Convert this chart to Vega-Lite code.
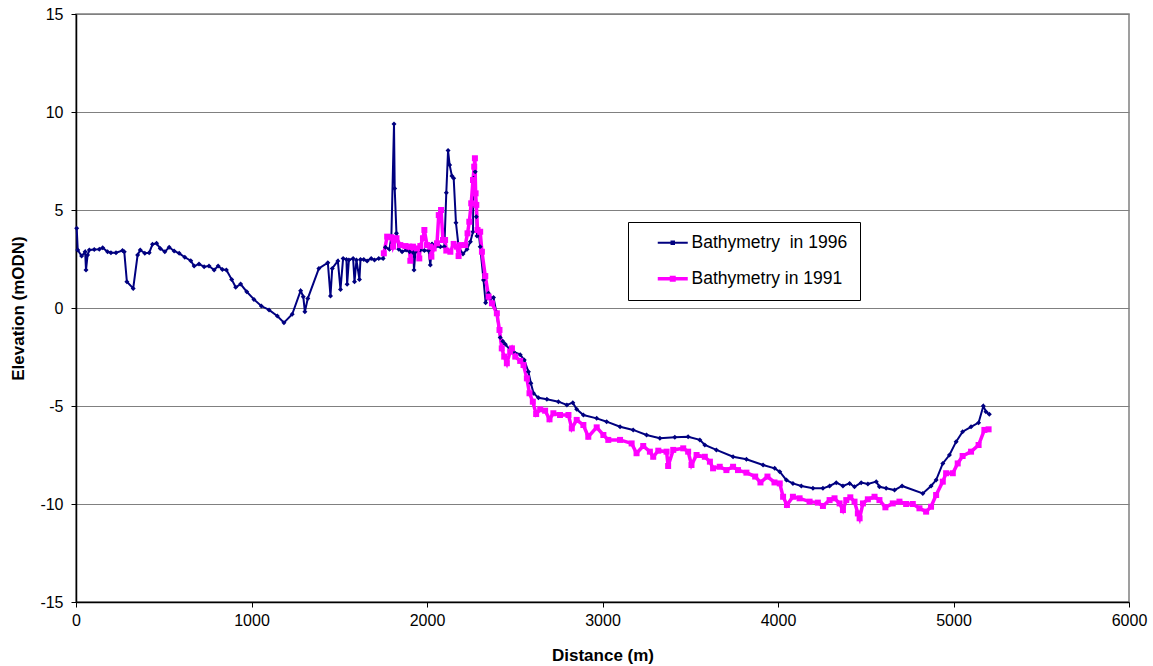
{
  "$schema": "https://vega.github.io/schema/vega-lite/v6.json",
  "width": 1053,
  "height": 588,
  "autosize": "none",
  "padding": {"left": 76, "top": 14, "right": 24, "bottom": 64},
  "background": "white",
  "config": {
    "font": "Liberation Sans",
    "view": {"stroke": "#808080", "strokeWidth": 1.5},
    "axis": {
      "labelFont": "Liberation Sans",
      "labelFontSize": 16,
      "labelColor": "black",
      "titleFont": "Liberation Sans",
      "titleFontSize": 17,
      "titleFontWeight": "bold",
      "titleColor": "black",
      "domainColor": "black",
      "domainWidth": 1.5,
      "tickColor": "black",
      "tickSize": 5,
      "gridColor": "#808080",
      "gridWidth": 1
    }
  },
  "data": {"values": [
    {"s":"Bathymetry\u00a0 in 1996","d":4,"e":4.07},{"s":"Bathymetry\u00a0 in 1996","d":10,"e":2.96},{"s":"Bathymetry\u00a0 in 1996","d":32,"e":2.65},{"s":"Bathymetry\u00a0 in 1996","d":52,"e":2.87},{"s":"Bathymetry\u00a0 in 1996","d":57,"e":1.94},{"s":"Bathymetry\u00a0 in 1996","d":66,"e":2.7},{"s":"Bathymetry\u00a0 in 1996","d":76,"e":2.96},{"s":"Bathymetry\u00a0 in 1996","d":104,"e":2.99},{"s":"Bathymetry\u00a0 in 1996","d":133,"e":3.0},{"s":"Bathymetry\u00a0 in 1996","d":152,"e":3.08},{"s":"Bathymetry\u00a0 in 1996","d":180,"e":2.87},{"s":"Bathymetry\u00a0 in 1996","d":199,"e":2.82},{"s":"Bathymetry\u00a0 in 1996","d":228,"e":2.82},{"s":"Bathymetry\u00a0 in 1996","d":265,"e":2.93},{"s":"Bathymetry\u00a0 in 1996","d":275,"e":2.87},{"s":"Bathymetry\u00a0 in 1996","d":290,"e":1.34},{"s":"Bathymetry\u00a0 in 1996","d":326,"e":1.0},{"s":"Bathymetry\u00a0 in 1996","d":351,"e":2.7},{"s":"Bathymetry\u00a0 in 1996","d":366,"e":2.96},{"s":"Bathymetry\u00a0 in 1996","d":392,"e":2.79},{"s":"Bathymetry\u00a0 in 1996","d":417,"e":2.82},{"s":"Bathymetry\u00a0 in 1996","d":436,"e":3.25},{"s":"Bathymetry\u00a0 in 1996","d":459,"e":3.3},{"s":"Bathymetry\u00a0 in 1996","d":480,"e":3.04},{"s":"Bathymetry\u00a0 in 1996","d":506,"e":2.87},{"s":"Bathymetry\u00a0 in 1996","d":531,"e":3.1},{"s":"Bathymetry\u00a0 in 1996","d":559,"e":2.91},{"s":"Bathymetry\u00a0 in 1996","d":588,"e":2.79},{"s":"Bathymetry\u00a0 in 1996","d":620,"e":2.59},{"s":"Bathymetry\u00a0 in 1996","d":654,"e":2.41},{"s":"Bathymetry\u00a0 in 1996","d":673,"e":2.14},{"s":"Bathymetry\u00a0 in 1996","d":701,"e":2.24},{"s":"Bathymetry\u00a0 in 1996","d":730,"e":2.11},{"s":"Bathymetry\u00a0 in 1996","d":758,"e":2.14},{"s":"Bathymetry\u00a0 in 1996","d":787,"e":1.94},{"s":"Bathymetry\u00a0 in 1996","d":810,"e":2.14},{"s":"Bathymetry\u00a0 in 1996","d":834,"e":1.97},{"s":"Bathymetry\u00a0 in 1996","d":857,"e":1.94},{"s":"Bathymetry\u00a0 in 1996","d":887,"e":1.46},{"s":"Bathymetry\u00a0 in 1996","d":910,"e":1.06},{"s":"Bathymetry\u00a0 in 1996","d":938,"e":1.22},{"s":"Bathymetry\u00a0 in 1996","d":973,"e":0.83},{"s":"Bathymetry\u00a0 in 1996","d":1014,"e":0.44},{"s":"Bathymetry\u00a0 in 1996","d":1056,"e":0.1},{"s":"Bathymetry\u00a0 in 1996","d":1100,"e":-0.1},{"s":"Bathymetry\u00a0 in 1996","d":1147,"e":-0.41},{"s":"Bathymetry\u00a0 in 1996","d":1185,"e":-0.75},{"s":"Bathymetry\u00a0 in 1996","d":1232,"e":-0.32},{"s":"Bathymetry\u00a0 in 1996","d":1280,"e":0.88},{"s":"Bathymetry\u00a0 in 1996","d":1295,"e":0.58},{"s":"Bathymetry\u00a0 in 1996","d":1304,"e":-0.19},{"s":"Bathymetry\u00a0 in 1996","d":1321,"e":0.49},{"s":"Bathymetry\u00a0 in 1996","d":1384,"e":2.02},{"s":"Bathymetry\u00a0 in 1996","d":1435,"e":2.31},{"s":"Bathymetry\u00a0 in 1996","d":1450,"e":0.61},{"s":"Bathymetry\u00a0 in 1996","d":1460,"e":2.02},{"s":"Bathymetry\u00a0 in 1996","d":1492,"e":2.4},{"s":"Bathymetry\u00a0 in 1996","d":1507,"e":0.95},{"s":"Bathymetry\u00a0 in 1996","d":1522,"e":2.53},{"s":"Bathymetry\u00a0 in 1996","d":1541,"e":2.48},{"s":"Bathymetry\u00a0 in 1996","d":1545,"e":1.21},{"s":"Bathymetry\u00a0 in 1996","d":1555,"e":2.45},{"s":"Bathymetry\u00a0 in 1996","d":1579,"e":2.53},{"s":"Bathymetry\u00a0 in 1996","d":1587,"e":1.34},{"s":"Bathymetry\u00a0 in 1996","d":1598,"e":2.45},{"s":"Bathymetry\u00a0 in 1996","d":1615,"e":1.46},{"s":"Bathymetry\u00a0 in 1996","d":1621,"e":2.48},{"s":"Bathymetry\u00a0 in 1996","d":1640,"e":2.48},{"s":"Bathymetry\u00a0 in 1996","d":1659,"e":2.4},{"s":"Bathymetry\u00a0 in 1996","d":1682,"e":2.53},{"s":"Bathymetry\u00a0 in 1996","d":1701,"e":2.45},{"s":"Bathymetry\u00a0 in 1996","d":1725,"e":2.53},{"s":"Bathymetry\u00a0 in 1996","d":1750,"e":2.53},{"s":"Bathymetry\u00a0 in 1996","d":1763,"e":3.1},{"s":"Bathymetry\u00a0 in 1996","d":1786,"e":3.0},{"s":"Bathymetry\u00a0 in 1996","d":1797,"e":3.64},{"s":"Bathymetry\u00a0 in 1996","d":1812,"e":9.39},{"s":"Bathymetry\u00a0 in 1996","d":1816,"e":6.1},{"s":"Bathymetry\u00a0 in 1996","d":1826,"e":3.81},{"s":"Bathymetry\u00a0 in 1996","d":1839,"e":3.0},{"s":"Bathymetry\u00a0 in 1996","d":1858,"e":2.87},{"s":"Bathymetry\u00a0 in 1996","d":1881,"e":2.96},{"s":"Bathymetry\u00a0 in 1996","d":1901,"e":2.87},{"s":"Bathymetry\u00a0 in 1996","d":1922,"e":2.82},{"s":"Bathymetry\u00a0 in 1996","d":1926,"e":1.94},{"s":"Bathymetry\u00a0 in 1996","d":1934,"e":2.87},{"s":"Bathymetry\u00a0 in 1996","d":1962,"e":2.96},{"s":"Bathymetry\u00a0 in 1996","d":1985,"e":2.93},{"s":"Bathymetry\u00a0 in 1996","d":2009,"e":2.93},{"s":"Bathymetry\u00a0 in 1996","d":2019,"e":2.19},{"s":"Bathymetry\u00a0 in 1996","d":2029,"e":3.27},{"s":"Bathymetry\u00a0 in 1996","d":2048,"e":3.13},{"s":"Bathymetry\u00a0 in 1996","d":2076,"e":3.13},{"s":"Bathymetry\u00a0 in 1996","d":2099,"e":3.13},{"s":"Bathymetry\u00a0 in 1996","d":2110,"e":5.88},{"s":"Bathymetry\u00a0 in 1996","d":2120,"e":8.03},{"s":"Bathymetry\u00a0 in 1996","d":2129,"e":7.3},{"s":"Bathymetry\u00a0 in 1996","d":2142,"e":6.73},{"s":"Bathymetry\u00a0 in 1996","d":2152,"e":6.62},{"s":"Bathymetry\u00a0 in 1996","d":2165,"e":4.35},{"s":"Bathymetry\u00a0 in 1996","d":2180,"e":3.13},{"s":"Bathymetry\u00a0 in 1996","d":2205,"e":2.76},{"s":"Bathymetry\u00a0 in 1996","d":2228,"e":3.0},{"s":"Bathymetry\u00a0 in 1996","d":2247,"e":3.38},{"s":"Bathymetry\u00a0 in 1996","d":2262,"e":3.89},{"s":"Bathymetry\u00a0 in 1996","d":2265,"e":6.62},{"s":"Bathymetry\u00a0 in 1996","d":2275,"e":6.95},{"s":"Bathymetry\u00a0 in 1996","d":2281,"e":4.66},{"s":"Bathymetry\u00a0 in 1996","d":2285,"e":3.67},{"s":"Bathymetry\u00a0 in 1996","d":2294,"e":3.89},{"s":"Bathymetry\u00a0 in 1996","d":2303,"e":3.13},{"s":"Bathymetry\u00a0 in 1996","d":2322,"e":1.43},{"s":"Bathymetry\u00a0 in 1996","d":2334,"e":0.27},{"s":"Bathymetry\u00a0 in 1996","d":2350,"e":0.75},{"s":"Bathymetry\u00a0 in 1996","d":2364,"e":0.5},{"s":"Bathymetry\u00a0 in 1996","d":2379,"e":0.53},{"s":"Bathymetry\u00a0 in 1996","d":2395,"e":-0.2},{"s":"Bathymetry\u00a0 in 1996","d":2417,"e":-1.5},{"s":"Bathymetry\u00a0 in 1996","d":2432,"e":-1.7},{"s":"Bathymetry\u00a0 in 1996","d":2446,"e":-1.85},{"s":"Bathymetry\u00a0 in 1996","d":2474,"e":-2.14},{"s":"Bathymetry\u00a0 in 1996","d":2493,"e":-2.23},{"s":"Bathymetry\u00a0 in 1996","d":2531,"e":-2.38},{"s":"Bathymetry\u00a0 in 1996","d":2554,"e":-2.65},{"s":"Bathymetry\u00a0 in 1996","d":2578,"e":-3.25},{"s":"Bathymetry\u00a0 in 1996","d":2592,"e":-3.84},{"s":"Bathymetry\u00a0 in 1996","d":2607,"e":-4.35},{"s":"Bathymetry\u00a0 in 1996","d":2635,"e":-4.58},{"s":"Bathymetry\u00a0 in 1996","d":2683,"e":-4.66},{"s":"Bathymetry\u00a0 in 1996","d":2749,"e":-4.78},{"s":"Bathymetry\u00a0 in 1996","d":2797,"e":-4.95},{"s":"Bathymetry\u00a0 in 1996","d":2831,"e":-4.83},{"s":"Bathymetry\u00a0 in 1996","d":2853,"e":-5.17},{"s":"Bathymetry\u00a0 in 1996","d":2891,"e":-5.46},{"s":"Bathymetry\u00a0 in 1996","d":2967,"e":-5.63},{"s":"Bathymetry\u00a0 in 1996","d":3024,"e":-5.8},{"s":"Bathymetry\u00a0 in 1996","d":3100,"e":-6.06},{"s":"Bathymetry\u00a0 in 1996","d":3175,"e":-6.22},{"s":"Bathymetry\u00a0 in 1996","d":3251,"e":-6.48},{"s":"Bathymetry\u00a0 in 1996","d":3327,"e":-6.65},{"s":"Bathymetry\u00a0 in 1996","d":3412,"e":-6.6},{"s":"Bathymetry\u00a0 in 1996","d":3488,"e":-6.57},{"s":"Bathymetry\u00a0 in 1996","d":3555,"e":-6.73},{"s":"Bathymetry\u00a0 in 1996","d":3583,"e":-6.99},{"s":"Bathymetry\u00a0 in 1996","d":3649,"e":-7.24},{"s":"Bathymetry\u00a0 in 1996","d":3744,"e":-7.59},{"s":"Bathymetry\u00a0 in 1996","d":3820,"e":-7.72},{"s":"Bathymetry\u00a0 in 1996","d":3915,"e":-8.01},{"s":"Bathymetry\u00a0 in 1996","d":3981,"e":-8.18},{"s":"Bathymetry\u00a0 in 1996","d":4010,"e":-8.35},{"s":"Bathymetry\u00a0 in 1996","d":4048,"e":-8.78},{"s":"Bathymetry\u00a0 in 1996","d":4085,"e":-8.95},{"s":"Bathymetry\u00a0 in 1996","d":4133,"e":-9.08},{"s":"Bathymetry\u00a0 in 1996","d":4199,"e":-9.2},{"s":"Bathymetry\u00a0 in 1996","d":4256,"e":-9.2},{"s":"Bathymetry\u00a0 in 1996","d":4294,"e":-9.08},{"s":"Bathymetry\u00a0 in 1996","d":4332,"e":-8.91},{"s":"Bathymetry\u00a0 in 1996","d":4370,"e":-9.08},{"s":"Bathymetry\u00a0 in 1996","d":4408,"e":-8.95},{"s":"Bathymetry\u00a0 in 1996","d":4436,"e":-9.12},{"s":"Bathymetry\u00a0 in 1996","d":4474,"e":-8.91},{"s":"Bathymetry\u00a0 in 1996","d":4512,"e":-8.98},{"s":"Bathymetry\u00a0 in 1996","d":4560,"e":-8.86},{"s":"Bathymetry\u00a0 in 1996","d":4578,"e":-9.12},{"s":"Bathymetry\u00a0 in 1996","d":4616,"e":-9.2},{"s":"Bathymetry\u00a0 in 1996","d":4664,"e":-9.29},{"s":"Bathymetry\u00a0 in 1996","d":4707,"e":-9.08},{"s":"Bathymetry\u00a0 in 1996","d":4825,"e":-9.46},{"s":"Bathymetry\u00a0 in 1996","d":4872,"e":-9.08},{"s":"Bathymetry\u00a0 in 1996","d":4901,"e":-8.78},{"s":"Bathymetry\u00a0 in 1996","d":4939,"e":-7.93},{"s":"Bathymetry\u00a0 in 1996","d":4977,"e":-7.5},{"s":"Bathymetry\u00a0 in 1996","d":5015,"e":-6.82},{"s":"Bathymetry\u00a0 in 1996","d":5052,"e":-6.31},{"s":"Bathymetry\u00a0 in 1996","d":5100,"e":-6.06},{"s":"Bathymetry\u00a0 in 1996","d":5143,"e":-5.85},{"s":"Bathymetry\u00a0 in 1996","d":5170,"e":-5.0},{"s":"Bathymetry\u00a0 in 1996","d":5185,"e":-5.29},{"s":"Bathymetry\u00a0 in 1996","d":5204,"e":-5.42},
    {"s":"Bathymetry in 1991","d":1754,"e":2.79},{"s":"Bathymetry in 1991","d":1773,"e":3.64},{"s":"Bathymetry in 1991","d":1797,"e":3.61},{"s":"Bathymetry in 1991","d":1807,"e":3.13},{"s":"Bathymetry in 1991","d":1826,"e":3.56},{"s":"Bathymetry in 1991","d":1848,"e":3.21},{"s":"Bathymetry in 1991","d":1877,"e":3.16},{"s":"Bathymetry in 1991","d":1899,"e":3.13},{"s":"Bathymetry in 1991","d":1905,"e":2.41},{"s":"Bathymetry in 1991","d":1920,"e":3.13},{"s":"Bathymetry in 1991","d":1943,"e":3.04},{"s":"Bathymetry in 1991","d":1956,"e":2.53},{"s":"Bathymetry in 1991","d":1962,"e":3.16},{"s":"Bathymetry in 1991","d":1977,"e":3.56},{"s":"Bathymetry in 1991","d":1985,"e":3.98},{"s":"Bathymetry in 1991","d":2000,"e":3.21},{"s":"Bathymetry in 1991","d":2019,"e":3.13},{"s":"Bathymetry in 1991","d":2025,"e":2.62},{"s":"Bathymetry in 1991","d":2038,"e":3.04},{"s":"Bathymetry in 1991","d":2057,"e":3.3},{"s":"Bathymetry in 1991","d":2067,"e":4.74},{"s":"Bathymetry in 1991","d":2080,"e":5.0},{"s":"Bathymetry in 1991","d":2091,"e":3.47},{"s":"Bathymetry in 1991","d":2103,"e":3.47},{"s":"Bathymetry in 1991","d":2110,"e":2.93},{"s":"Bathymetry in 1991","d":2133,"e":2.87},{"s":"Bathymetry in 1991","d":2152,"e":3.27},{"s":"Bathymetry in 1991","d":2171,"e":3.13},{"s":"Bathymetry in 1991","d":2180,"e":2.65},{"s":"Bathymetry in 1991","d":2190,"e":3.21},{"s":"Bathymetry in 1991","d":2218,"e":3.21},{"s":"Bathymetry in 1991","d":2231,"e":3.81},{"s":"Bathymetry in 1991","d":2241,"e":4.4},{"s":"Bathymetry in 1991","d":2252,"e":5.34},{"s":"Bathymetry in 1991","d":2262,"e":6.53},{"s":"Bathymetry in 1991","d":2269,"e":7.21},{"s":"Bathymetry in 1991","d":2273,"e":7.64},{"s":"Bathymetry in 1991","d":2277,"e":5.85},{"s":"Bathymetry in 1991","d":2281,"e":5.26},{"s":"Bathymetry in 1991","d":2288,"e":3.98},{"s":"Bathymetry in 1991","d":2303,"e":3.89},{"s":"Bathymetry in 1991","d":2313,"e":2.87},{"s":"Bathymetry in 1991","d":2332,"e":1.63},{"s":"Bathymetry in 1991","d":2351,"e":0.58},{"s":"Bathymetry in 1991","d":2370,"e":0.24},{"s":"Bathymetry in 1991","d":2398,"e":-0.27},{"s":"Bathymetry in 1991","d":2413,"e":-1.12},{"s":"Bathymetry in 1991","d":2426,"e":-2.06},{"s":"Bathymetry in 1991","d":2440,"e":-2.48},{"s":"Bathymetry in 1991","d":2455,"e":-2.82},{"s":"Bathymetry in 1991","d":2474,"e":-2.23},{"s":"Bathymetry in 1991","d":2484,"e":-2.06},{"s":"Bathymetry in 1991","d":2503,"e":-2.48},{"s":"Bathymetry in 1991","d":2531,"e":-2.7},{"s":"Bathymetry in 1991","d":2550,"e":-2.91},{"s":"Bathymetry in 1991","d":2569,"e":-3.59},{"s":"Bathymetry in 1991","d":2584,"e":-4.35},{"s":"Bathymetry in 1991","d":2603,"e":-4.78},{"s":"Bathymetry in 1991","d":2622,"e":-5.41},{"s":"Bathymetry in 1991","d":2645,"e":-5.17},{"s":"Bathymetry in 1991","d":2673,"e":-5.24},{"s":"Bathymetry in 1991","d":2698,"e":-5.68},{"s":"Bathymetry in 1991","d":2720,"e":-5.37},{"s":"Bathymetry in 1991","d":2758,"e":-5.46},{"s":"Bathymetry in 1991","d":2806,"e":-5.46},{"s":"Bathymetry in 1991","d":2825,"e":-6.14},{"s":"Bathymetry in 1991","d":2853,"e":-5.71},{"s":"Bathymetry in 1991","d":2891,"e":-5.97},{"s":"Bathymetry in 1991","d":2919,"e":-6.57},{"s":"Bathymetry in 1991","d":2967,"e":-6.09},{"s":"Bathymetry in 1991","d":3005,"e":-6.48},{"s":"Bathymetry in 1991","d":3033,"e":-6.73},{"s":"Bathymetry in 1991","d":3100,"e":-6.73},{"s":"Bathymetry in 1991","d":3166,"e":-6.91},{"s":"Bathymetry in 1991","d":3194,"e":-7.41},{"s":"Bathymetry in 1991","d":3232,"e":-7.04},{"s":"Bathymetry in 1991","d":3270,"e":-7.33},{"s":"Bathymetry in 1991","d":3289,"e":-7.59},{"s":"Bathymetry in 1991","d":3318,"e":-7.28},{"s":"Bathymetry in 1991","d":3365,"e":-7.33},{"s":"Bathymetry in 1991","d":3374,"e":-8.06},{"s":"Bathymetry in 1991","d":3403,"e":-7.24},{"s":"Bathymetry in 1991","d":3460,"e":-7.16},{"s":"Bathymetry in 1991","d":3488,"e":-7.33},{"s":"Bathymetry in 1991","d":3507,"e":-8.01},{"s":"Bathymetry in 1991","d":3536,"e":-7.5},{"s":"Bathymetry in 1991","d":3583,"e":-7.59},{"s":"Bathymetry in 1991","d":3612,"e":-7.84},{"s":"Bathymetry in 1991","d":3630,"e":-8.18},{"s":"Bathymetry in 1991","d":3668,"e":-8.1},{"s":"Bathymetry in 1991","d":3706,"e":-8.27},{"s":"Bathymetry in 1991","d":3744,"e":-8.1},{"s":"Bathymetry in 1991","d":3772,"e":-8.27},{"s":"Bathymetry in 1991","d":3820,"e":-8.4},{"s":"Bathymetry in 1991","d":3870,"e":-8.6},{"s":"Bathymetry in 1991","d":3900,"e":-8.9},{"s":"Bathymetry in 1991","d":3940,"e":-8.6},{"s":"Bathymetry in 1991","d":3980,"e":-8.9},{"s":"Bathymetry in 1991","d":4010,"e":-8.95},{"s":"Bathymetry in 1991","d":4029,"e":-9.63},{"s":"Bathymetry in 1991","d":4051,"e":-10.05},{"s":"Bathymetry in 1991","d":4085,"e":-9.63},{"s":"Bathymetry in 1991","d":4123,"e":-9.71},{"s":"Bathymetry in 1991","d":4180,"e":-9.88},{"s":"Bathymetry in 1991","d":4227,"e":-9.93},{"s":"Bathymetry in 1991","d":4256,"e":-10.1},{"s":"Bathymetry in 1991","d":4294,"e":-9.8},{"s":"Bathymetry in 1991","d":4322,"e":-9.71},{"s":"Bathymetry in 1991","d":4351,"e":-9.97},{"s":"Bathymetry in 1991","d":4370,"e":-10.31},{"s":"Bathymetry in 1991","d":4389,"e":-9.8},{"s":"Bathymetry in 1991","d":4412,"e":-9.66},{"s":"Bathymetry in 1991","d":4436,"e":-9.88},{"s":"Bathymetry in 1991","d":4455,"e":-10.48},{"s":"Bathymetry in 1991","d":4465,"e":-10.73},{"s":"Bathymetry in 1991","d":4484,"e":-9.97},{"s":"Bathymetry in 1991","d":4512,"e":-9.76},{"s":"Bathymetry in 1991","d":4550,"e":-9.63},{"s":"Bathymetry in 1991","d":4578,"e":-9.8},{"s":"Bathymetry in 1991","d":4612,"e":-10.17},{"s":"Bathymetry in 1991","d":4654,"e":-9.97},{"s":"Bathymetry in 1991","d":4692,"e":-9.88},{"s":"Bathymetry in 1991","d":4730,"e":-10.0},{"s":"Bathymetry in 1991","d":4768,"e":-10.0},{"s":"Bathymetry in 1991","d":4806,"e":-10.22},{"s":"Bathymetry in 1991","d":4844,"e":-10.39},{"s":"Bathymetry in 1991","d":4872,"e":-10.14},{"s":"Bathymetry in 1991","d":4901,"e":-9.54},{"s":"Bathymetry in 1991","d":4939,"e":-8.86},{"s":"Bathymetry in 1991","d":4958,"e":-8.43},{"s":"Bathymetry in 1991","d":4996,"e":-8.43},{"s":"Bathymetry in 1991","d":5024,"e":-7.93},{"s":"Bathymetry in 1991","d":5052,"e":-7.55},{"s":"Bathymetry in 1991","d":5100,"e":-7.33},{"s":"Bathymetry in 1991","d":5143,"e":-6.99},{"s":"Bathymetry in 1991","d":5176,"e":-6.22},{"s":"Bathymetry in 1991","d":5200,"e":-6.19}
  ]},
  "encoding": {
    "x": {"field": "d", "type": "quantitative", "title": "Distance (m)",
      "scale": {"domain": [0, 6000], "nice": false, "zero": false},
      "axis": {"values": [0,1000,2000,3000,4000,5000,6000], "grid": false, "labelPadding": 5, "titlePadding": 19, "labelFlush": false, "labelExpr": "datum.value + ''"}},
    "y": {"field": "e", "type": "quantitative", "title": "Elevation (mODN)",
      "scale": {"domain": [-15, 15], "nice": false, "zero": false},
      "axis": {"values": [-15,-10,-5,0,5,10,15], "grid": true, "labelPadding": 8, "titlePadding": 12, "labelFlush": false, "labelExpr": "datum.value + ''"}},
    "color": {"field": "s", "type": "nominal",
      "scale": {"domain": ["Bathymetry\u00a0 in 1996", "Bathymetry in 1991"], "range": ["#000080", "#FF00FF"]},
      "legend": {
        "title": null, "orient": "none", "legendX": 552, "legendY": 208,
        "direction": "vertical",
        "padding": 12, "rowPadding": 17,
        "strokeColor": "black", "fillColor": "white",
        "symbolType": "M-3,0H3M-0.25,-0.25H0.25V0.25H-0.25Z",
        "symbolSize": 100, "symbolStrokeWidth": 2, "symbolOffset": 24,
        "labelFont": "Liberation Sans", "labelFontSize": 17.5, "labelColor": "black",
        "labelOffset": 10, "labelLimit": 400
      }}
  },
  "layer": [
    {"mark": {"type": "line"},
     "encoding": {
       "strokeWidth": {"field": "s", "type": "nominal",
         "scale": {"domain": ["Bathymetry\u00a0 in 1996", "Bathymetry in 1991"], "range": [2, 3.5]},
         "legend": null}}},
    {"transform": [{"filter": "datum.s != 'Bathymetry in 1991'"}],
     "mark": {"type": "point", "filled": true, "opacity": 1, "shape": "diamond", "size": 25}},
    {"transform": [{"filter": "datum.s == 'Bathymetry in 1991'"}],
     "mark": {"type": "point", "filled": true, "opacity": 1, "shape": "square", "size": 36}}
  ]
}
